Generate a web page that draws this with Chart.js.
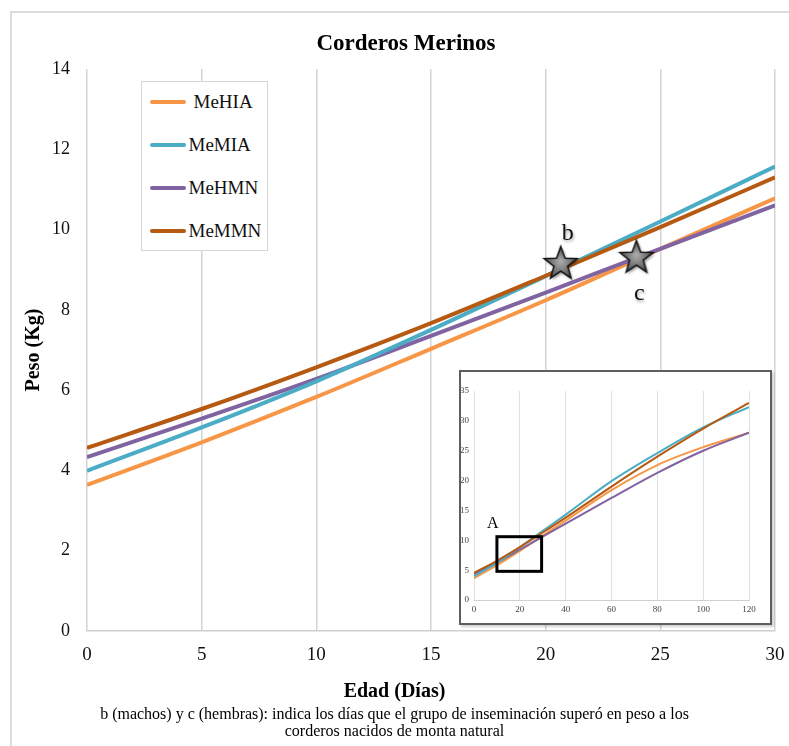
<!DOCTYPE html>
<html>
<head>
<meta charset="utf-8">
<script src="https://cdn.jsdelivr.net/npm/chart.js@4/dist/chart.umd.min.js"></script>
<style>
	html, body { margin: 0; padding: 0; background: #fff; overflow: hidden; width: 789px; height: 746px; }
	#marco { position: absolute; left: 10px; top: 11px; width: 830px; height: 800px; border: 2px solid #dcdcdc; box-sizing: border-box; }
	#grafico { position: absolute; left: 0; top: 0; }
	#leyenda { position: absolute; left: 141px; top: 81px; width: 127px; height: 170px; border: 1.5px solid #d6d6d6; background: #fff; box-sizing: border-box; font-family: "Liberation Serif"; font-size: 19px; color: #111; }
	.item { position: absolute; left: 7.5px; height: 22px; display: flex; align-items: center; white-space: nowrap; }
	.muestra { width: 36px; height: 4px; border-radius: 2px; margin-right: 3px; }
	#recuadro { position: absolute; left: 459px; top: 370px; width: 313px; height: 255px; border: 2px solid #5e5e5e; box-sizing: border-box; background: #fff; box-shadow: 2px 2px 2px rgba(0,0,0,0.18); }
	#grafico_inset { position: absolute; left: 0; top: 0; }
	#titulo_x { position: absolute; left: 0; top: 678px; width: 789px; text-align: center; font-family: "Liberation Serif"; font-weight: bold; font-size: 20px; line-height: 24px; color: #000; }
	#pie { position: absolute; left: 0; top: 705px; width: 789px; text-align: center; font-family: "Liberation Serif"; font-size: 16px; line-height: 17px; color: #000; }
</style>
</head>
<body>
<div id="marco"></div>
<canvas id="grafico" width="800" height="746"></canvas>
<div id="leyenda"></div>
<div id="recuadro"><canvas id="grafico_inset" width="309" height="251"></canvas></div>
<div id="titulo_x">Edad (Días)</div>
<div id="pie">b (machos) y c (hembras): indica los días que el grupo de inseminación superó en peso a los<br>corderos nacidos de monta natural</div>
<script>
// datos del grafico principal (0 a 30 dias)
var diasEdad = [0, 5, 10, 15, 20, 25, 30];
var pesoMeHIA = [3.64, 4.70, 5.83, 7.03, 8.24, 9.52, 10.78];
var pesoMeMIA = [3.99, 5.07, 6.22, 7.50, 8.84, 10.20, 11.57];
var pesoMeHMN = [4.33, 5.29, 6.28, 7.35, 8.43, 9.52, 10.60];
var pesoMeMMN = [4.56, 5.53, 6.57, 7.67, 8.85, 10.06, 11.30];

var nombresGrupos = ["MeHIA", "MeMIA", "MeHMN", "MeMMN"];
var coloresGrupos = ["#F79646", "#4BACC6", "#8064A2", "#B65A12"];

// estrellas b y c
var diasEstrella = [20.7, 24.0];
var pesoEstrella = [9.17, 9.32];
var etiquetasEstrella = ["b", "c"];

// datos del grafico pequeño (0 a 120 dias)
var diasInset = [0, 10, 20, 30, 40, 60, 80, 100, 120];
var insetMeHIA = [3.64, 5.83, 8.24, 10.78, 13.3, 18.4, 22.6, 25.6, 28.0];
var insetMeMIA = [3.99, 6.22, 8.84, 11.57, 14.3, 19.9, 24.6, 28.9, 32.3];
var insetMeHMN = [4.33, 6.28, 8.43, 10.60, 12.8, 17.1, 21.3, 25.0, 28.0];
var insetMeMMN = [4.56, 6.57, 8.85, 11.30, 13.8, 19.0, 24.0, 28.7, 33.0];

// zona A marcada en el grafico pequeño
var zonaA = { diaInicio: 10, diaFin: 29.5, pesoMin: 4.8, pesoMax: 10.6, etiqueta: "A", diaEtiqueta: 8.2, pesoEtiqueta: 12.7 };

var fuente = "Liberation Serif";

function puntos(xs, ys) {
	return xs.map(function (x, i) {
		return { x: x, y: ys[i] };
	});
}

function crearEstrella() {
	var c = document.createElement("canvas");
	c.width = 46;
	c.height = 46;
	var ctx = c.getContext("2d");
	ctx.beginPath();
	for (var i = 0; i < 10; i++) {
		var r = i % 2 == 0 ? 17.5 : 7.2;
		var a = -Math.PI / 2 + (i * Math.PI) / 5;
		var px = 22 + r * Math.cos(a);
		var py = 24 + r * Math.sin(a);
		if (i == 0) ctx.moveTo(px, py);
		else ctx.lineTo(px, py);
	}
	ctx.closePath();
	ctx.save();
	ctx.shadowColor = "rgba(0,0,0,0.45)";
	ctx.shadowBlur = 3;
	ctx.shadowOffsetX = 1.5;
	ctx.shadowOffsetY = 2;
	var g = ctx.createRadialGradient(22, 21, 1, 22, 24, 17);
	g.addColorStop(0, "#a9a9a9");
	g.addColorStop(1, "#4a4a4a");
	ctx.fillStyle = g;
	ctx.fill();
	ctx.restore();
	ctx.lineWidth = 1.5;
	ctx.strokeStyle = "#111";
	ctx.stroke();
	return c;
}

// leyenda en html
var leyenda = document.getElementById("leyenda");
nombresGrupos.forEach(function (nombre, i) {
	var item = document.createElement("div");
	item.className = "item";
	item.style.top = 21 - 11 - 1.5 + i * 43.3 + "px";
	item.innerHTML = `<span class="muestra" style="background:${coloresGrupos[i]}"></span><span style="margin-left:${i == 0 ? 5 : 0}px">${nombre}</span>`;
	leyenda.appendChild(item);
});

var pluginEtiquetas = {
	id: "etiquetas",
	afterDatasetsDraw: function (chart) {
		var ctx = chart.ctx;
		var sx = chart.scales.x;
		var sy = chart.scales.y;
		ctx.save();
		ctx.font = "24px '" + fuente + "'";
		ctx.textAlign = "center";
		ctx.textBaseline = "middle";
		ctx.fillStyle = "#111";
		ctx.shadowColor = "rgba(0,0,0,0.35)";
		ctx.shadowBlur = 3;
		ctx.shadowOffsetX = 1;
		ctx.shadowOffsetY = 2;
		etiquetasEstrella.forEach(function (t, i) {
			var px = sx.getPixelForValue(diasEstrella[i]);
			var py = sy.getPixelForValue(pesoEstrella[i]);
			// b va arriba de la estrella, c abajo
			if (i == 0) ctx.fillText(t, px + 6, py - 29);
			else ctx.fillText(t, px + 2, py + 37);
		});
		ctx.restore();
	},
};

var pluginZona = {
	id: "zona",
	afterDatasetsDraw: function (chart) {
		var ctx = chart.ctx;
		var sx = chart.scales.x;
		var sy = chart.scales.y;
		var x1 = sx.getPixelForValue(zonaA.diaInicio);
		var x2 = sx.getPixelForValue(zonaA.diaFin);
		var y1 = sy.getPixelForValue(zonaA.pesoMax);
		var y2 = sy.getPixelForValue(zonaA.pesoMin);
		ctx.save();
		ctx.strokeStyle = "#000";
		ctx.lineWidth = 3;
		ctx.strokeRect(x1, y1, x2 - x1, y2 - y1);
		ctx.font = "16px '" + fuente + "'";
		ctx.fillStyle = "#000";
		ctx.textAlign = "center";
		ctx.textBaseline = "middle";
		ctx.fillText(zonaA.etiqueta, sx.getPixelForValue(zonaA.diaEtiqueta), sy.getPixelForValue(zonaA.pesoEtiqueta));
		ctx.restore();
	},
};

var seriesPrincipal = [pesoMeHIA, pesoMeMIA, pesoMeHMN, pesoMeMMN];
var ordenDibujo = [3, 1, 2, 0];

var datasetsPrincipal = seriesPrincipal.map(function (serie, i) {
	return {
		label: nombresGrupos[i],
		data: puntos(diasEdad, serie),
		showLine: true,
		borderColor: coloresGrupos[i],
		backgroundColor: coloresGrupos[i],
		borderWidth: 4,
		pointRadius: 0,
		cubicInterpolationMode: "monotone",
		order: ordenDibujo[i],
	};
});
datasetsPrincipal.push({
	label: "estrellas",
	data: puntos(diasEstrella, pesoEstrella),
	showLine: false,
	pointStyle: crearEstrella(),
	order: -1,
});

var chart_principal = new Chart(document.getElementById("grafico"), {
	type: "scatter",
	data: { datasets: datasetsPrincipal },
	options: {
		responsive: false,
		animation: false,
		devicePixelRatio: 1,
		events: [],
		layout: { padding: { left: 12, right: 0, top: 0, bottom: 75 } },
		scales: {
			x: {
				type: "linear",
				min: 0,
				max: 30,
				ticks: { stepSize: 5, color: "#111", padding: 13, font: { family: fuente, size: 19 } },
				grid: { color: "#d4d4d4", lineWidth: 1.5, drawTicks: false },
				border: { display: true, color: "#cfcfcf", width: 1.5 },
				afterFit: function (s) { s.height = 40; },
			},
			y: {
				min: 0,
				max: 14,
				ticks: { stepSize: 2, color: "#111", padding: 17, font: { family: fuente, size: 18 } },
				grid: { display: false, drawTicks: false },
				border: { display: false },
				title: { display: true, text: "Peso (Kg)", color: "#000", padding: { top: 10 }, font: { family: fuente, size: 20, weight: "bold" } },
				afterFit: function (s) { s.width = 75; },
			},
			derecha: {
				position: "right",
				display: true,
				ticks: { display: false },
				grid: { display: false, drawTicks: false },
				border: { display: false },
				afterFit: function (s) { s.width = 25; },
			},
		},
		plugins: {
			legend: { display: false },
			tooltip: { enabled: false },
			title: {
				display: true,
				text: "Corderos Merinos",
				color: "#000",
				padding: { top: 30, bottom: 11.4 },
				font: { family: fuente, size: 23, weight: "bold" },
			},
		},
	},
	plugins: [pluginEtiquetas],
});

var seriesInset = [insetMeHIA, insetMeMIA, insetMeHMN, insetMeMMN];
var chart_inset = new Chart(document.getElementById("grafico_inset"), {
	type: "scatter",
	data: {
		datasets: seriesInset.map(function (serie, i) {
			return {
				label: nombresGrupos[i],
				data: puntos(diasInset, serie),
				showLine: true,
				borderColor: coloresGrupos[i],
				borderWidth: 2,
				pointRadius: 0,
				cubicInterpolationMode: "monotone",
				order: ordenDibujo[i],
			};
		}),
	},
	options: {
		responsive: false,
		animation: false,
		devicePixelRatio: 1,
		events: [],
		layout: { padding: { left: 0, right: 21, top: 19, bottom: 0 } },
		scales: {
			x: {
				type: "linear",
				min: 0,
				max: 120,
				ticks: { stepSize: 20, color: "#444", padding: 4, font: { family: fuente, size: 9 } },
				grid: { color: "#e0e0e0", lineWidth: 1, drawTicks: false },
				border: { display: true, color: "#d0d0d0", width: 1 },
				afterFit: function (s) { s.height = 23; },
			},
			y: {
				min: 0,
				max: 35,
				ticks: { stepSize: 5, color: "#444", padding: 5, font: { family: fuente, size: 9 } },
				grid: { display: false, drawTicks: false },
				border: { display: false },
				afterFit: function (s) { s.width = 13; },
			},
		},
		plugins: {
			legend: { display: false },
			tooltip: { enabled: false },
		},
	},
	plugins: [pluginZona],
});
</script>
</body>
</html>
